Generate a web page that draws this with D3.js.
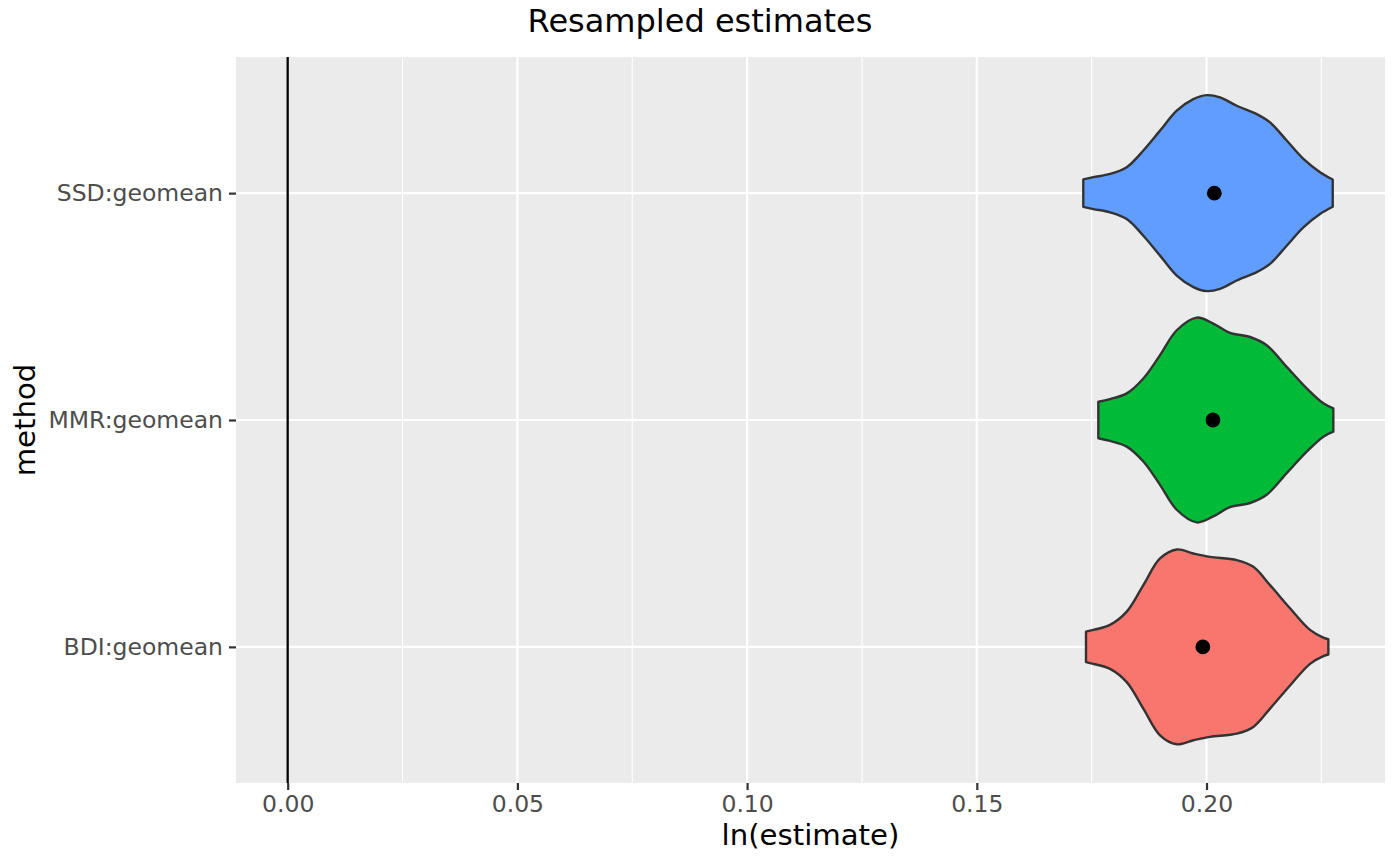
<!DOCTYPE html>
<html>
<head>
<meta charset="utf-8">
<script src="https://cdn.jsdelivr.net/npm/d3@7"></script>
<style>
  html, body { margin: 0; padding: 0; background: #ffffff; }
  svg { display: block; }
  text { font-family: "DejaVu Sans", sans-serif; }
</style>
</head>
<body>
<svg id="chart" width="1400" height="866"></svg>
<script>
// ---- Data ----
const categories = ["SSD:geomean", "MMR:geomean", "BDI:geomean"]; // top to bottom
const fillColors = ["#619CFF", "#00BA38", "#F8766D"];

// Violin outlines: x positions (ln estimate) and relative density (half-width, max ~1)
const ssdX = [0.17318, 0.17536, 0.17899, 0.18263, 0.18625, 0.18988, 0.19352, 0.19713, 0.20005, 0.20294, 0.20658, 0.21093, 0.21383, 0.21746, 0.22108, 0.22471, 0.22747];
const ssdDensity = [0.134, 0.156, 0.188, 0.254, 0.417, 0.612, 0.808, 0.921, 0.960, 0.9375, 0.856, 0.774, 0.693, 0.515, 0.335, 0.205, 0.134];

const mmrX = [0.17645, 0.17899, 0.18263, 0.18625, 0.18988, 0.19352, 0.19787, 0.20148, 0.20511, 0.20947, 0.21310, 0.21746, 0.22181, 0.22543, 0.22760];
const mmrDensity = [0.179, 0.205, 0.261, 0.407, 0.635, 0.879, 1.003, 0.944, 0.853, 0.813, 0.732, 0.521, 0.310, 0.163, 0.114];

const bdiX = [0.17377, 0.17536, 0.17899, 0.18263, 0.18625, 0.18988, 0.19352, 0.19713, 0.20077, 0.20658, 0.21019, 0.21383, 0.21818, 0.22253, 0.22543, 0.22652];
const bdiDensity = [0.149, 0.166, 0.215, 0.345, 0.605, 0.866, 0.954, 0.915, 0.882, 0.850, 0.784, 0.605, 0.378, 0.166, 0.091, 0.075];

const pointValues = [0.2017, 0.2014, 0.1992]; // SSD, MMR, BDI

const xMajorTicks = [0.00, 0.05, 0.10, 0.15, 0.20];
const xTickLabels = ["0.00", "0.05", "0.10", "0.15", "0.20"];
const xMinorTicks = [0.025, 0.075, 0.125, 0.175, 0.225];
const refLine = 0;

const titleText = "Resampled estimates";
const xTitle = "ln(estimate)";
const yTitle = "method";

// ---- Layout ----
const svg = d3.select("#chart");
const panel = { left: 236, right: 1385, top: 57, bottom: 783 };

const x = d3.scaleLinear().domain([-0.01125, 0.23885]).range([panel.left, panel.right]);
const y = d3.scalePoint().domain(categories).range([panel.top, panel.bottom]).padding(0.6);
const halfW = d3.scaleLinear().domain([0, 1]).range([0, 0.45 * y.step()]);

// Panel background
svg.append("rect")
  .attr("x", panel.left).attr("y", panel.top)
  .attr("width", panel.right - panel.left).attr("height", panel.bottom - panel.top)
  .attr("fill", "#EBEBEB");

// Minor grid
svg.append("g").selectAll("line").data(xMinorTicks).join("line")
  .attr("x1", d => x(d)).attr("x2", d => x(d))
  .attr("y1", panel.top).attr("y2", panel.bottom)
  .attr("stroke", "#ffffff").attr("stroke-width", 1.1);

// Major grid
svg.append("g").selectAll("line").data(xMajorTicks).join("line")
  .attr("x1", d => x(d)).attr("x2", d => x(d))
  .attr("y1", panel.top).attr("y2", panel.bottom)
  .attr("stroke", "#ffffff").attr("stroke-width", 2.2);
svg.append("g").selectAll("line").data(categories).join("line")
  .attr("x1", panel.left).attr("x2", panel.right)
  .attr("y1", d => y(d)).attr("y2", d => y(d))
  .attr("stroke", "#ffffff").attr("stroke-width", 2.2);

// Reference line
svg.append("line")
  .attr("x1", x(refLine)).attr("x2", x(refLine))
  .attr("y1", panel.top).attr("y2", panel.bottom)
  .attr("stroke", "#000000").attr("stroke-width", 2.3);

// Violins
const violins = [
  { cat: categories[0], xs: ssdX, ds: ssdDensity, fill: fillColors[0] },
  { cat: categories[1], xs: mmrX, ds: mmrDensity, fill: fillColors[1] },
  { cat: categories[2], xs: bdiX, ds: bdiDensity, fill: fillColors[2] }
];
violins.forEach(v => {
  const pts = v.xs.map((xv, i) => ({ x: xv, d: v.ds[i] }));
  const cy = y(v.cat);
  const area = d3.area()
    .x(p => x(p.x))
    .y0(p => cy - halfW(p.d))
    .y1(p => cy + halfW(p.d))
    .curve(d3.curveCatmullRom.alpha(0.5));
  svg.append("path")
    .attr("d", area(pts))
    .attr("fill", v.fill)
    .attr("stroke", "#333333")
    .attr("stroke-width", 2.4)
    .attr("stroke-linejoin", "round");
});

// Points
svg.append("g").selectAll("circle").data(categories).join("circle")
  .attr("cx", (d, i) => x(pointValues[i]))
  .attr("cy", d => y(d))
  .attr("r", 7.4)
  .attr("fill", "#000000");

// X axis
const xAxis = d3.axisBottom(x).tickValues(xMajorTicks).tickSize(7).tickPadding(5)
  .tickFormat((d, i) => xTickLabels[i]);
const gx = svg.append("g").attr("transform", `translate(0,${panel.bottom})`).call(xAxis);
gx.select(".domain").remove();
gx.selectAll(".tick line").attr("stroke", "#333333").attr("stroke-width", 2.2);
gx.selectAll(".tick text").attr("fill", "#4D4D4D").attr("font-size", 23.5)
  .attr("font-family", "DejaVu Sans");

// Y axis
const yAxis = d3.axisLeft(y).tickSize(7).tickPadding(6);
const gy = svg.append("g").attr("transform", `translate(${panel.left},0)`).call(yAxis);
gy.select(".domain").remove();
gy.selectAll(".tick line").attr("stroke", "#333333").attr("stroke-width", 2.2);
gy.selectAll(".tick text").attr("fill", "#4D4D4D").attr("font-size", 23.5)
  .attr("font-family", "DejaVu Sans");

// Titles
svg.append("text")
  .attr("x", (panel.left + panel.right) / 2).attr("y", 845)
  .attr("text-anchor", "middle").attr("font-size", 29.2).attr("fill", "#000000")
  .text(xTitle);

svg.append("text")
  .attr("transform", `translate(35,${(panel.top + panel.bottom) / 2}) rotate(-90)`)
  .attr("text-anchor", "middle").attr("font-size", 29.2).attr("fill", "#000000")
  .text(yTitle);

svg.append("text")
  .attr("x", 700).attr("y", 32)
  .attr("text-anchor", "middle").attr("font-size", 32).attr("fill", "#000000")
  .text(titleText);
</script>
</body>
</html>
